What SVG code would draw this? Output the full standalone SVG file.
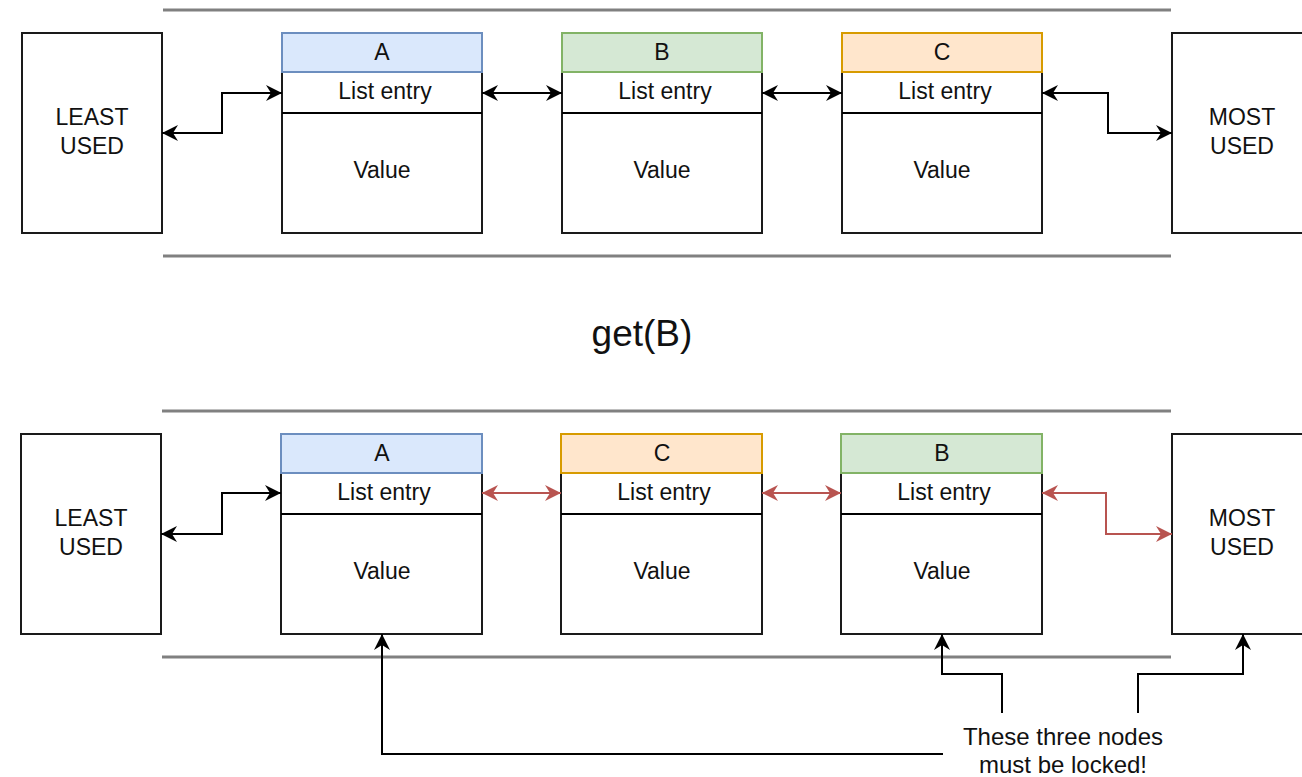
<svg xmlns="http://www.w3.org/2000/svg" width="1302" height="777" viewBox="0 0 1302 777">
<style>
text{font-family:"Liberation Sans",Arial,sans-serif;fill:#111;text-anchor:middle}
.lbl{font-size:23px}
.box{fill:#fff;stroke:#1a1a1a;stroke-width:2}
.sep{stroke:#808080;stroke-width:3}
.hA{fill:#dae8fc;stroke:#6c8ebf;stroke-width:2}
.hB{fill:#d5e8d4;stroke:#82b366;stroke-width:2}
.hC{fill:#ffe6cc;stroke:#d79b00;stroke-width:2}
.blk{fill:none;stroke:#000;stroke-width:2}
.red{fill:none;stroke:#b85450;stroke-width:2}
</style>
<defs>
<marker id="ab" markerUnits="userSpaceOnUse" markerWidth="18" markerHeight="16" refX="16" refY="8" orient="auto-start-reverse" viewBox="0 0 18 16"><path d="M0,0 L16,8 L0,16 L5,8 z" fill="#000"/></marker>
<marker id="ar" markerUnits="userSpaceOnUse" markerWidth="18" markerHeight="16" refX="16" refY="8" orient="auto-start-reverse" viewBox="0 0 18 16"><path d="M0,0 L16,8 L0,16 L5,8 z" fill="#b85450"/></marker>
</defs>
<g id="separators">
<line class="sep" x1="163" y1="10" x2="1171" y2="10"/>
<line class="sep" x1="163" y1="256" x2="1171" y2="256"/>
<line class="sep" x1="162" y1="411" x2="1171" y2="411"/>
<line class="sep" x1="162" y1="657" x2="1171" y2="657"/>
</g>
<g id="top-least"><rect class="box" x="22" y="33" width="140" height="200"/><text class="lbl" x="92" y="125">LEAST</text><text class="lbl" x="92" y="154">USED</text></g>
<g id="top-A"><rect class="box" x="282" y="72" width="200" height="161"/><rect class="hA" x="282" y="33" width="200" height="39"/><line class="blk" x1="282" y1="113" x2="482" y2="113"/><text class="lbl" x="382" y="60">A</text><text class="lbl" x="385" y="99">List entry</text><text class="lbl" x="382" y="178">Value</text></g>
<g id="top-B"><rect class="box" x="562" y="72" width="200" height="161"/><rect class="hB" x="562" y="33" width="200" height="39"/><line class="blk" x1="562" y1="113" x2="762" y2="113"/><text class="lbl" x="662" y="60">B</text><text class="lbl" x="665" y="99">List entry</text><text class="lbl" x="662" y="178">Value</text></g>
<g id="top-C"><rect class="box" x="842" y="72" width="200" height="161"/><rect class="hC" x="842" y="33" width="200" height="39"/><line class="blk" x1="842" y1="113" x2="1042" y2="113"/><text class="lbl" x="942" y="60">C</text><text class="lbl" x="945" y="99">List entry</text><text class="lbl" x="942" y="178">Value</text></g>
<g id="top-most"><rect class="box" x="1172" y="33" width="140" height="200"/><text class="lbl" x="1242" y="125">MOST</text><text class="lbl" x="1242" y="154">USED</text></g>
<g id="title"><text x="642" y="346" style="font-size:37px">get(B)</text></g>
<g id="bot-least"><rect class="box" x="21" y="434" width="140" height="200"/><text class="lbl" x="91" y="526">LEAST</text><text class="lbl" x="91" y="555">USED</text></g>
<g id="bot-A"><rect class="box" x="281" y="473" width="201" height="161"/><rect class="hA" x="281" y="434" width="201" height="39"/><line class="blk" x1="281" y1="514" x2="482" y2="514"/><text class="lbl" x="382" y="461">A</text><text class="lbl" x="384" y="500">List entry</text><text class="lbl" x="382" y="579">Value</text></g>
<g id="bot-C"><rect class="box" x="561" y="473" width="201" height="161"/><rect class="hC" x="561" y="434" width="201" height="39"/><line class="blk" x1="561" y1="514" x2="762" y2="514"/><text class="lbl" x="662" y="461">C</text><text class="lbl" x="664" y="500">List entry</text><text class="lbl" x="662" y="579">Value</text></g>
<g id="bot-B"><rect class="box" x="841" y="473" width="201" height="161"/><rect class="hB" x="841" y="434" width="201" height="39"/><line class="blk" x1="841" y1="514" x2="1042" y2="514"/><text class="lbl" x="942" y="461">B</text><text class="lbl" x="944" y="500">List entry</text><text class="lbl" x="942" y="579">Value</text></g>
<g id="bot-most"><rect class="box" x="1172" y="434" width="140" height="200"/><text class="lbl" x="1242" y="526">MOST</text><text class="lbl" x="1242" y="555">USED</text></g>
<g id="note"><text class="lbl" x="1063" y="745" style="font-size:24px">These three nodes</text><text class="lbl" x="1063" y="773" style="font-size:24px">must be locked!</text></g>
<g id="connectors">
<path class="blk" d="M162,133 H222 V93 H282" marker-start="url(#ab)" marker-end="url(#ab)"/>
<path class="blk" d="M482,93 H562" marker-start="url(#ab)" marker-end="url(#ab)"/>
<path class="blk" d="M762,93 H842" marker-start="url(#ab)" marker-end="url(#ab)"/>
<path class="blk" d="M1042,93 H1108 V133 H1172" marker-start="url(#ab)" marker-end="url(#ab)"/>
<path class="blk" d="M161,534 H222 V493 H281" marker-start="url(#ab)" marker-end="url(#ab)"/>
<path class="red" d="M482,493 H561" marker-start="url(#ar)" marker-end="url(#ar)"/>
<path class="red" d="M762,493 H841" marker-start="url(#ar)" marker-end="url(#ar)"/>
<path class="red" d="M1042,493 H1106 V534 H1172" marker-start="url(#ar)" marker-end="url(#ar)"/>
<path class="blk" d="M943,754 H382 V634" marker-end="url(#ab)"/>
<path class="blk" d="M1002,713 V674 H942 V634" marker-end="url(#ab)"/>
<path class="blk" d="M1138,713 V674 H1243 V634" marker-end="url(#ab)"/>
</g>
</svg>
